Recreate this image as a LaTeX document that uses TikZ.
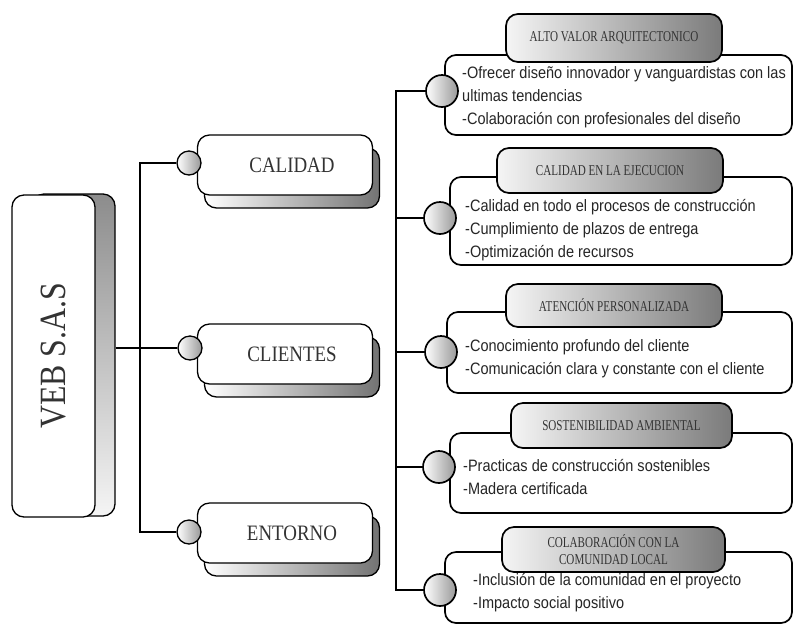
\documentclass[tikz,border=0pt]{standalone}
\usepackage{fontspec}
\setmainfont{Liberation Serif}
\newfontfamily\headfont[FakeStretch=0.86]{Liberation Serif}
\newfontfamily\titlefont[FakeStretch=0.74]{Liberation Serif}
\newfontfamily\itemfont[FakeStretch=0.88]{Liberation Sans}
\usetikzlibrary{calc,positioning,shapes}
\pgfdeclarelayer{background}
\pgfsetlayers{background,main}

\begin{document}
\begin{tikzpicture}[x=1pt,y=-1pt]
\tikzset{
    line/.style={draw=black, line width=1.2pt},
    frontbox/.style={draw, line width=1.3pt, rounded corners=12pt, fill=white, inner sep=0pt,
       text=black!80, font=\headfont\fontsize{22}{24}\selectfont},
    backbox/.style={draw, line width=1.3pt, rounded corners=12pt, inner sep=0pt,
       left color=white, right color=black!55},
    vebshade/.style={draw, line width=1.3pt, rounded corners=12pt, inner sep=0pt,
       top color=black!45, bottom color=black!4},
    knob/.style={circle, draw, line width=1.3pt, inner sep=0pt, minimum size=24pt,
       left color=white, right color=black!40},
    bigknob/.style={knob, line width=1.7pt, minimum size=32pt},
    itembox/.style={draw, line width=1.7pt, rounded corners=11pt, fill=white, inner sep=0pt},
    headbox/.style={draw, line width=1.7pt, rounded corners=12pt, inner sep=0pt,
       left color=black!4, right color=black!52, text=black!80,
       font=\titlefont\fontsize{15}{17}\selectfont, align=center},
    items/.style={anchor=west, align=left, inner sep=0pt, text=black!85,
       font=\itemfont\fontsize{16.5}{23}\selectfont}
}
\useasboundingbox (0,0) rectangle (794,625);
%
% left column
\node[vebshade, minimum width=83pt, minimum height=322pt] at (73.5,355) (vebshadow) {};
\node[frontbox, minimum width=83pt, minimum height=322pt] at (53.5,356) (veb)
   {\fontsize{37}{40}\selectfont\rotatebox{90}{VEB S.A.S}};

\node[backbox, minimum width=175pt, minimum height=60pt] at (292,178) (calidadshadow) {};
\node[frontbox, minimum width=175pt, minimum height=60pt] at (285,165) (calidad) {\hspace{14pt}CALIDAD};
\node[backbox, minimum width=175pt, minimum height=60pt] at (292,367) (clientesshadow) {};
\node[frontbox, minimum width=175pt, minimum height=60pt] at (285,354) (clientes) {\hspace{14pt}CLIENTES};
\node[backbox, minimum width=175pt, minimum height=60pt] at (292,546) (entornoshadow) {};
\node[frontbox, minimum width=175pt, minimum height=60pt] at (285,533) (entorno) {\hspace{14pt}ENTORNO};

\node[knob] at (189,163) (c1) {};
\node[knob] at (190,348) (c2) {};
\node[knob] at (189,532) (c3) {};

% right column
\node[itembox, minimum width=347pt, minimum height=80pt] at (618.5,95) (b1) {};
\node[itembox, minimum width=342pt, minimum height=88pt] at (621,221) (b2) {};
\node[itembox, minimum width=345pt, minimum height=81pt] at (619.5,352.5) (b3) {};
\node[itembox, minimum width=342pt, minimum height=80pt] at (621,473) (b4) {};
\node[itembox, minimum width=347pt, minimum height=71pt] at (618.5,587.5) (b5) {};

\node[headbox, minimum width=216pt, minimum height=48pt, fill=black!15] at (614,38) (t1) {ALTO VALOR ARQUITECTONICO};
\node[headbox, minimum width=226pt, minimum height=45pt] at (610,170.5) (t2) {CALIDAD EN LA EJECUCION};
\node[headbox, minimum width=216pt, minimum height=43pt] at (614,305.5) (t3) {ATENCIÓN PERSONALIZADA};
\node[headbox, minimum width=221pt, minimum height=45pt] at (621.5,425.5) (t4) {SOSTENIBILIDAD AMBIENTAL};
\node[headbox, minimum width=223pt, minimum height=45pt] at (613.5,549.5) (t5) {COLABORACIÓN CON LA\\COMUNIDAD LOCAL};

\node[items] at (462,97) (b1txt) {-Ofrecer diseño innovador y vanguardistas con las\\ultimas tendencias\\-Colaboración con profesionales del diseño};
\node[items] at (465,230.5) (b2txt) {-Calidad en todo el procesos de construcción\\-Cumplimiento de plazos de entrega\\-Optimización de recursos};
\node[items] at (465,358.5) (b3txt) {-Conocimiento profundo del cliente\\-Comunicación clara y constante con el cliente};
\node[items] at (463,476.5) (b4txt) {-Practicas de construcción sostenibles\\-Madera certificada};
\node[items] at (473,592.5) (b5txt) {-Inclusión de la comunidad en el proyecto\\-Impacto social positivo};

\node[bigknob, fill=black!15] at (442,91) (r1) {};
\node[bigknob] at (440,218) (r2) {};
\node[bigknob] at (441,352) (r3) {};
\node[bigknob] at (439,467) (r4) {};
\node[bigknob] at (440,590) (r5) {};

% connectors
\coordinate (lbus) at (140,0);
\coordinate (rbus) at (396,0);
\begin{pgfonlayer}{background}
\draw[line] (c1.west) -- (c1.west -| lbus) |- (c3.west);
\draw[line] (vebshadow.east |- c2.west) -- (c2.west);
\draw[line] (r1.west) -- (r1.west -| rbus) |- (r5.west);
\foreach \n in {2,3,4}
  \draw[line] (r\n.west -| rbus) -- (r\n.west);
\end{pgfonlayer}
\end{tikzpicture}
\end{document}
